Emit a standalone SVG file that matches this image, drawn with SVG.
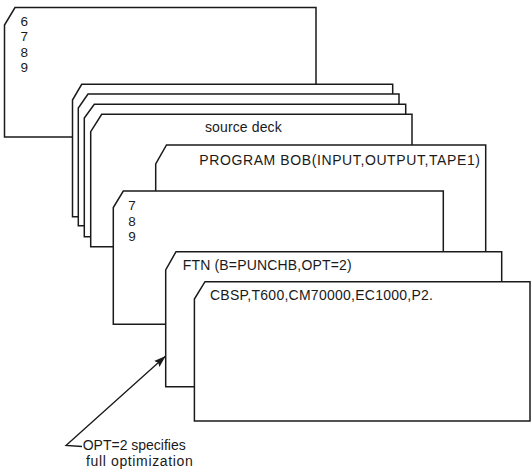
<svg xmlns="http://www.w3.org/2000/svg" width="531" height="470" viewBox="0 0 531 470">
<style>
.card{fill:#fff;stroke:#1a1a1a;stroke-width:1.5;stroke-linejoin:miter}
.t{font-family:"Liberation Sans",Arial,sans-serif;font-size:14px;fill:#1a1a1a}
.d{font-family:"Liberation Sans",Arial,sans-serif;font-size:13.5px;fill:#1a1a1a}
.lead{fill:none;stroke:#1a1a1a;stroke-width:1.3}
</style>
<defs>
<marker id="ah" markerUnits="userSpaceOnUse" markerWidth="14" markerHeight="10" refX="12" refY="5" orient="auto">
<path d="M0,1 L12,5 L0,9 L2,5 Z" fill="#1a1a1a"/>
</marker>
</defs>
<rect width="531" height="470" fill="#fff"/>
<g id="card-6789">
<path class="card" d="M15,7.5 H316 V137 H4.5 V25 Z"/>
<text class="d" x="20.5" y="26">6</text>
<text class="d" x="20.5" y="41.3">7</text>
<text class="d" x="20.5" y="56.6">8</text>
<text class="d" x="20.5" y="72">9</text>
</g>
<g id="deck-card-1">
<path class="card" d="M81.7,84.3 H392.7 V216.7 H72.5 V100 Z"/>
</g>
<g id="deck-card-2">
<path class="card" d="M88,94 H399 V225.7 H78.3 V108 Z"/>
</g>
<g id="deck-card-3">
<path class="card" d="M94.3,104.3 H405.7 V236.7 H84.3 V118 Z"/>
</g>
<g id="source-deck">
<path class="card" d="M101.7,114.3 H412 V246.7 H90.7 V131.7 Z"/>
<text class="t" x="205" y="131.5" textLength="76.7" lengthAdjust="spacing">source deck</text>
</g>
<g id="program-card">
<path class="card" d="M166.5,145 H485.7 V300 H155.7 V164 Z"/>
<text class="t" x="199.3" y="164.5" textLength="280.7" lengthAdjust="spacing">PROGRAM BOB(INPUT,OUTPUT,TAPE1)</text>
</g>
<g id="card-789">
<path class="card" d="M123.3,191 H443.3 V324.3 H113.3 V207.5 Z"/>
<text class="d" x="128.3" y="210">7</text>
<text class="d" x="128.3" y="225.5">8</text>
<text class="d" x="128.3" y="241">9</text>
</g>
<g id="ftn-card">
<path class="card" d="M176,251.7 H501.7 V386.7 H165.7 V270 Z"/>
<text class="t" x="182.7" y="270" textLength="169" lengthAdjust="spacing">FTN (B=PUNCHB,OPT=2)</text>
</g>
<g id="job-card">
<path class="card" d="M205,281.7 H530 V421 H194.4 V299 Z"/>
<text class="t" x="210" y="299.5" textLength="223" lengthAdjust="spacing">CBSP,T600,CM70000,EC1000,P2.</text>
</g>
<g id="connectors">
<polyline class="lead" points="82,446.5 66,445.5 165.7,356" marker-end="url(#ah)"/>
</g>
<g id="note">
<text class="t" x="82.7" y="450" textLength="103" lengthAdjust="spacing">OPT=2 specifies</text>
<text class="t" x="86" y="465.7" textLength="106.7" lengthAdjust="spacing">full optimization</text>
</g>
</svg>
